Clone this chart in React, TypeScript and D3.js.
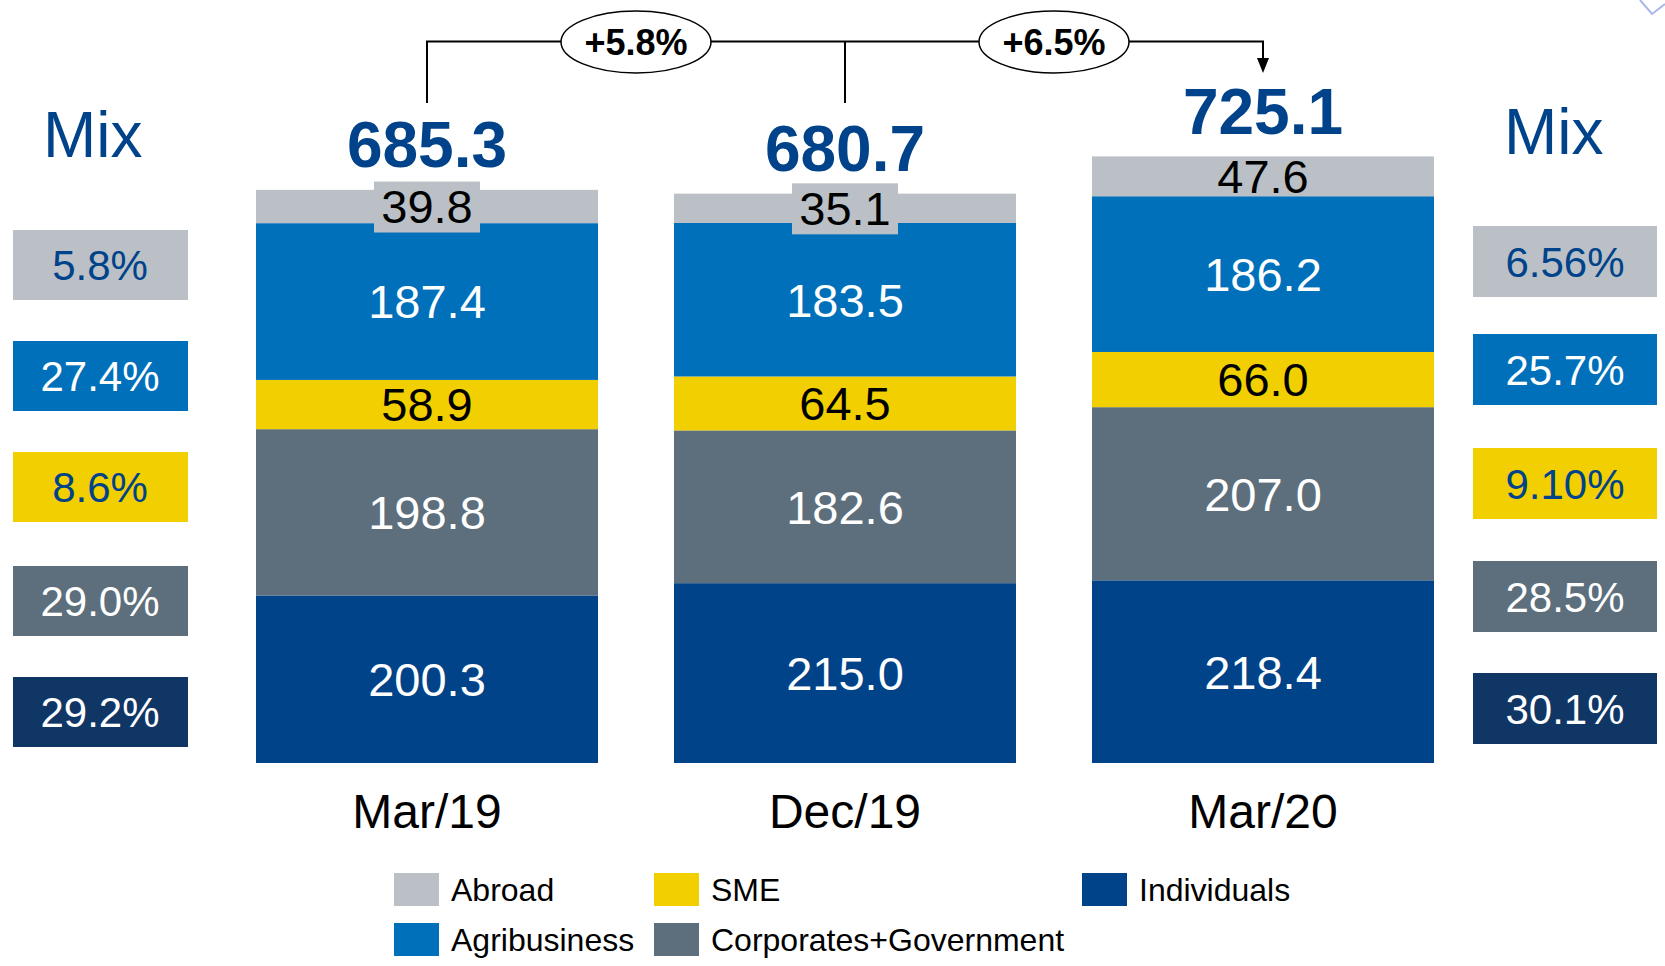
import React from "react";
import * as d3 from "d3";

const categories = ["Mar/19", "Dec/19", "Mar/20"];
const seriesKeys = ["Individuals", "Corporates+Government", "SME", "Agribusiness", "Abroad"];
const individuals = [200.3, 215.0, 218.4];
const corporates = [198.8, 182.6, 207.0];
const sme = [58.9, 64.5, 66.0];
const agribusiness = [187.4, 183.5, 186.2];
const abroad = [39.8, 35.1, 47.6];
const totals = [685.3, 680.7, 725.1];
const growthLabels = ["+5.8%", "+6.5%"];
const mixLeft = ["5.8%", "27.4%", "8.6%", "29.0%", "29.2%"];
const mixRight = ["6.56%", "25.7%", "9.10%", "28.5%", "30.1%"];
const legendOrder = ["Abroad", "Agribusiness", "SME", "Corporates+Government", "Individuals"];

const W = 1665;
const H = 966;
const FONT = "'Liberation Sans', Arial, Helvetica, sans-serif";
const BLUE_TEXT = "#00438A";

const colors: Record<string, string> = {
  Abroad: "#BAC0C6",
  Agribusiness: "#0070BA",
  SME: "#F2CF00",
  "Corporates+Government": "#5D6F7C",
  Individuals: "#004388",
};
const textColors: Record<string, string> = {
  Abroad: "#000",
  Agribusiness: "#fff",
  SME: "#000",
  "Corporates+Government": "#fff",
  Individuals: "#fff",
};
const mixBoxFill = ["#BAC0C6", "#0070BA", "#F2CF00", "#5D6F7C", "#0F3665"];
const mixBoxText = [BLUE_TEXT, "#fff", BLUE_TEXT, "#fff", "#fff"];

const rows = categories.map((c, i) => ({
  category: c,
  Individuals: individuals[i],
  "Corporates+Government": corporates[i],
  SME: sme[i],
  Agribusiness: agribusiness[i],
  Abroad: abroad[i],
}));

export default function App() {
  const x = d3.scaleBand<string>().domain(categories).range([256, 1434]).paddingInner(0.1818).paddingOuter(0);
  const y = d3.scaleLinear().domain([0, 725.1]).range([763, 763 - 606.5]);
  const stack = d3.stack<any>().keys(seriesKeys);
  const stacked = stack(rows);
  const cx = (c: string) => (x(c) as number) + x.bandwidth() / 2;

  const lineY = 41.5;
  const c0 = cx(categories[0]);
  const c1 = cx(categories[1]);
  const c2 = cx(categories[2]);

  const leftBoxTops = [230, 341, 452, 566, 677];
  const rightBoxTops = [226, 334, 448, 561, 673];

  return (
    <svg width={W} height={H} style={{ position: "absolute", left: 0, top: 0, background: "#fff" }} fontFamily={FONT}>
      <polyline points="1640,0 1652,14 1665,4" fill="none" stroke="#A9B7E8" strokeWidth={2} />

      {stacked.map((layer) => (
        <g key={layer.key}>
          {layer.map((d, i) => (
            <rect
              key={i}
              x={x(categories[i])}
              y={y(d[1])}
              width={x.bandwidth()}
              height={y(d[0]) - y(d[1])}
              fill={colors[layer.key]}
            />
          ))}
        </g>
      ))}
      {stacked.map((layer) => (
        <g key={layer.key + "-lbl"}>
          {layer.map((d, i) => {
            const mid = (y(d[0]) + y(d[1])) / 2;
            const h = y(d[0]) - y(d[1]);
            const val = d[1] - d[0];
            const small = layer.key === "Abroad" && h < 36;
            return (
              <g key={i}>
                {small && (
                  <rect x={cx(categories[i]) - 53} y={mid - 25} width={106} height={51} fill={colors.Abroad} />
                )}
                <text
                  x={cx(categories[i])}
                  y={mid}
                  dy="0.36em"
                  textAnchor="middle"
                  fontSize={47}
                  fill={textColors[layer.key]}
                >
                  {val.toFixed(1)}
                </text>
              </g>
            );
          })}
        </g>
      ))}

      {totals.map((t, i) => (
        <text
          key={i}
          x={cx(categories[i])}
          y={y(t) - 23}
          textAnchor="middle"
          fontSize={64}
          fontWeight="bold"
          fill={BLUE_TEXT}
        >
          {t.toFixed(1)}
        </text>
      ))}

      {categories.map((c) => (
        <text key={c} x={cx(c)} y={828} textAnchor="middle" fontSize={48} fill="#000">
          {c}
        </text>
      ))}

      <g stroke="#000" strokeWidth={2} fill="none">
        <polyline points={`${c0},103 ${c0},${lineY} ${c2},${lineY} ${c2},60`} />
        <line x1={c1} y1={lineY} x2={c1} y2={103} />
      </g>
      <path d={`M${c2 - 6},58 L${c2 + 6},58 L${c2},73 Z`} fill="#000" />
      {growthLabels.map((g, i) => {
        const ex = (cx(categories[i]) + cx(categories[i + 1])) / 2;
        return (
          <g key={g}>
            <ellipse cx={ex} cy={42} rx={75} ry={31} fill="#fff" stroke="#000" strokeWidth={1.5} />
            <text x={ex} y={42} dy="0.36em" textAnchor="middle" fontSize={36} fontWeight="bold" fill="#000">
              {g}
            </text>
          </g>
        );
      })}

      <text x={43} y={157} fontSize={64} fill={BLUE_TEXT}>Mix</text>
      <text x={1504} y={154} fontSize={64} fill={BLUE_TEXT}>Mix</text>
      {mixLeft.map((m, i) => (
        <g key={"l" + i}>
          <rect x={13} y={leftBoxTops[i]} width={175} height={70} fill={mixBoxFill[i]} />
          <text x={100} y={leftBoxTops[i] + 35} dy="0.36em" textAnchor="middle" fontSize={42} fill={mixBoxText[i]}>
            {m}
          </text>
        </g>
      ))}
      {mixRight.map((m, i) => (
        <g key={"r" + i}>
          <rect x={1473} y={rightBoxTops[i]} width={184} height={71} fill={mixBoxFill[i]} />
          <text x={1565} y={rightBoxTops[i] + 35.5} dy="0.36em" textAnchor="middle" fontSize={42} fill={mixBoxText[i]}>
            {m}
          </text>
        </g>
      ))}

      {legendOrder.map((k, i) => {
        const col = [0, 0, 1, 1, 2][i];
        const row = [0, 1, 0, 1, 0][i];
        const lx = [394, 654, 1082][col];
        const ly = [873, 923][row];
        return (
          <g key={k}>
            <rect x={lx} y={ly} width={45} height={33} fill={colors[k]} />
            <text x={lx + 57} y={ly + 16.5} dy="0.36em" fontSize={32} fill="#000">
              {k}
            </text>
          </g>
        );
      })}
    </svg>
  );
}
